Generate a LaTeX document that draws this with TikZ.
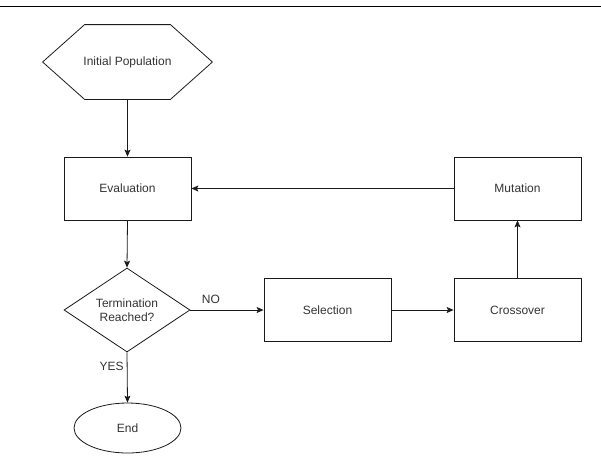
\documentclass[tikz,border=0pt]{standalone}
\usepackage{fontspec}
\setmainfont{Liberation Sans}
\usetikzlibrary{shapes.geometric,arrows.meta}
\definecolor{txt}{HTML}{333333}
\definecolor{ln}{HTML}{1A1A1A}
\begin{document}
\begin{tikzpicture}[x=1pt,y=-1pt,
  base/.style={draw=ln,line width=0.8pt,font=\fontsize{12}{14}\selectfont,text=txt,inner sep=0pt,align=center},
  box/.style={base,rectangle,minimum width=127pt,minimum height=63pt},
  conn/.style={draw=ln,line width=0.8pt,-{Stealth[length=7pt,width=6pt,inset=1.5pt]}},
  lbl/.style={font=\fontsize{12}{14}\selectfont,text=txt,inner sep=0pt}]
\useasboundingbox (0,0) rectangle (601,456);
\coordinate (tl) at (0,6);
\coordinate (tr) at (601,6);
\draw[black,line width=1pt] (tl) -- (tr);
\node[base,draw=none,minimum width=169pt,minimum height=74pt] (init) at (127.5,62) {Initial Population};
\draw[ln,line width=0.8pt] (init.west) -- ([xshift=42pt]init.north west) -- ([xshift=-42pt]init.north east) -- (init.east) -- ([xshift=-42pt]init.south east) -- ([xshift=42pt]init.south west) -- cycle;
\node[box] (eval) at (127.5,188.5) {Evaluation};
\node[base,diamond,minimum width=126pt,minimum height=84pt,aspect=1.5] (term) at (127,310) {Termination\\Reached?};
\node[base,ellipse,minimum width=107pt,minimum height=50pt] (end) at (127.5,428) {End};
\node[box] (sel) at (327.5,310) {Selection};
\node[box] (cross) at (517.5,310) {Crossover};
\node[box] (mut) at (517.5,188.5) {Mutation};
\draw[conn] (init.south) -- (eval.north);
\draw[conn] (eval.south) -- (term.north);
\draw[conn] (term.east) -- node[lbl,pos=0.28,above=6pt]{NO} (sel.west);
\draw[conn] (sel.east) -- (cross.west);
\draw[conn] (cross.north) -- (mut.south);
\draw[conn] (mut.west) -- (eval.east);
\draw[conn] (term.south) -- node[lbl,pos=0.27,left=3pt]{YES} (end.north);
\end{tikzpicture}
\end{document}
